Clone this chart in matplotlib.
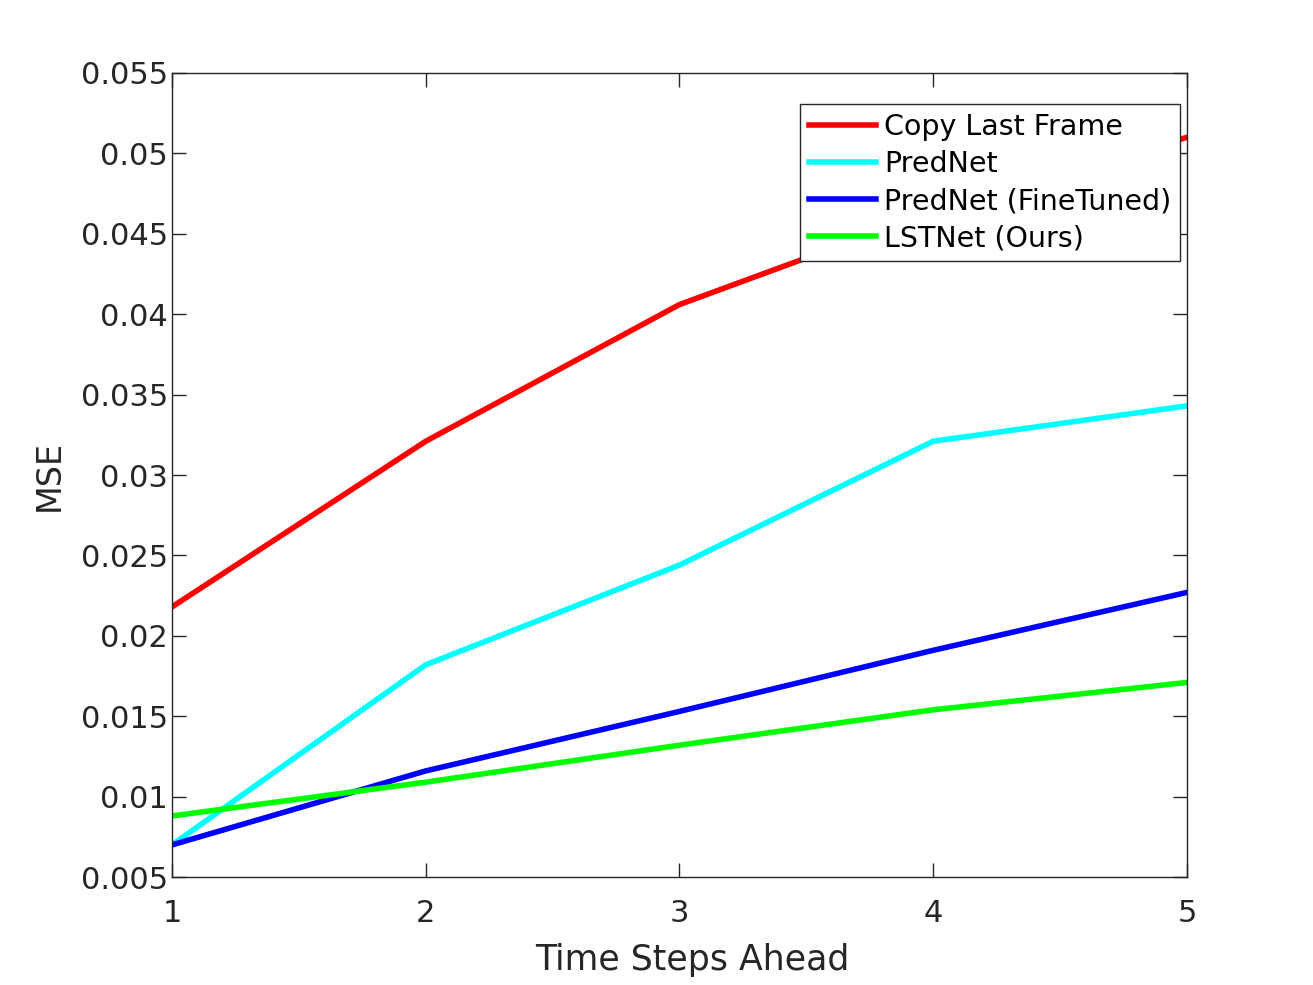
import matplotlib
matplotlib.use("Agg")
import matplotlib.pyplot as plt
from matplotlib.ticker import FuncFormatter

steps = [1, 2, 3, 4, 5]
copy_last = [0.0218, 0.0321, 0.0406, 0.0464, 0.0510]
prednet = [0.0070, 0.0182, 0.0244, 0.0321, 0.0343]
prednet_ft = [0.0070, 0.0116, 0.0153, 0.0191, 0.0227]
lstnet = [0.0088, 0.0109, 0.0132, 0.0154, 0.0171]

labels = ["Copy Last Frame", "PredNet", "PredNet (FineTuned)", "LSTNet (Ours)"]
colors = ["#ff0000", "#00ffff", "#0000ff", "#00ff00"]
yticks = [0.005, 0.01, 0.015, 0.02, 0.025, 0.03, 0.035, 0.04, 0.045, 0.05, 0.055]

plt.rcParams["font.family"] = "DejaVu Sans"
grey = "#262626"

fig = plt.figure(figsize=(13.13, 9.85), dpi=100)
ax = fig.add_axes([0.131, 0.1096, 0.773, 0.8163])

for ys, lab, c in zip([copy_last, prednet, prednet_ft, lstnet], labels, colors):
    ax.plot(steps, ys, color=c, linewidth=4.0, label=lab, solid_joinstyle="miter")

ax.set_xlim(1, 5)
ax.set_ylim(0.005, 0.055)
ax.set_xticks(steps)
ax.set_yticks(yticks)
ax.yaxis.set_major_formatter(FuncFormatter(lambda v, p: "%g" % round(v, 3)))
ax.tick_params(direction="in", length=10, width=1, colors=grey, labelsize=22,
               top=True, right=True)
ax.tick_params(axis="x", pad=16)
ax.tick_params(axis="y", pad=3)
for s in ax.spines.values():
    s.set_color(grey)
    s.set_linewidth(1)

ax.set_xlabel("Time Steps Ahead", fontsize=25, color=grey, labelpad=10)
ax.xaxis.set_label_coords(0.513, -0.082)
ax.set_ylabel("MSE", fontsize=24, color=grey, labelpad=11)

leg = ax.legend(loc="upper right", bbox_to_anchor=(0.993, 0.961), borderaxespad=0,
                fontsize=20.5, fancybox=False, framealpha=1, handlelength=2.35,
                handletextpad=0.3, labelspacing=0.32, borderpad=0.3)
leg.get_frame().set_edgecolor(grey)
leg.get_frame().set_linewidth(1)

fig.savefig("out.png", dpi=100)
